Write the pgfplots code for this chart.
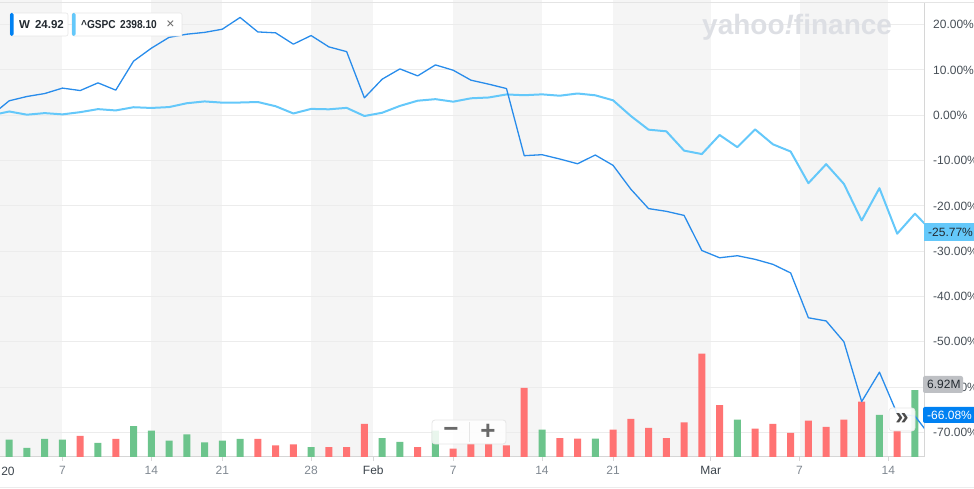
\documentclass[border=0pt]{standalone}
\usepackage{fontspec}
\setmainfont{Liberation Sans}
\usepackage{pgfplots}
\pgfplotsset{compat=1.18}
\usepackage{pgfplotstable}

\definecolor{band}{RGB}{245,245,245}
\definecolor{gridc}{RGB}{236,236,236}
\definecolor{axisc}{RGB}{214,214,214}
\definecolor{wline}{RGB}{40,140,235}
\definecolor{sline}{RGB}{100,200,250}
\definecolor{volg}{RGB}{108,196,140}
\definecolor{volr}{RGB}{255,115,115}
\definecolor{ylab}{RGB}{70,78,86}
\definecolor{daylab}{RGB}{128,136,145}
\definecolor{monlab}{RGB}{60,68,76}
\definecolor{wm}{RGB}{221,223,228}
\definecolor{legtxt}{RGB}{35,42,49}
\definecolor{wbar}{RGB}{0,129,242}
\definecolor{mbox}{RGB}{190,192,196}
\definecolor{btn}{RGB}{105,105,105}
\definecolor{frame}{RGB}{228,228,228}
\definecolor{chip}{RGB}{230,230,230}

% percent change since Dec 31 (index -1), trading-day index
\pgfplotstableread{
i v
-1 0
0 3.2
1 4.15
2 4.8
3 6.0
4 5.46
5 7.16
6 5.55
7 11.94
8 14.8
9 17.2
10 17.9
11 18.3
12 19.0
13 21.6
14 18.4
15 18.2
16 15.7
17 17.6
18 15.1
19 14.05
20 3.85
21 7.97
22 10.24
23 8.7
24 11.12
25 9.95
26 7.75
27 6.87
28 5.9
29 -8.92
30 -8.7
31 -9.65
32 -10.7
33 -8.77
34 -11.05
35 -16.3
36 -20.6
37 -21.2
38 -22.1
39 -29.85
40 -31.45
41 -31.0
42 -31.8
43 -32.9
44 -34.8
45 -44.7
46 -45.4
47 -50.0
48 -63.2
49 -56.7
50 -65.9
51 -66.4
52 -71.5
}\wdata

\pgfplotstableread{
i v
-1 0
0 0.84
1 0.13
2 0.48
3 0.20
4 0.69
5 1.36
6 1.07
7 1.78
8 1.62
9 1.81
10 2.66
11 3.06
12 2.79
13 2.82
14 2.93
15 2.00
16 0.40
17 1.41
18 1.32
19 1.64
20 -0.16
21 0.56
22 2.07
23 3.22
24 3.56
25 3.00
26 3.75
27 3.93
28 4.60
29 4.43
30 4.62
31 4.32
32 4.81
33 4.41
34 3.31
35 -0.15
36 -3.17
37 -3.54
38 -7.80
39 -8.56
40 -4.35
41 -7.04
42 -3.12
43 -6.40
44 -8.00
45 -14.99
46 -10.79
47 -15.15
48 -23.22
49 -16.09
50 -26.14
51 -21.72
52 -25.77
}\sdata

% volume (millions), up days
\pgfplotstableread{
i v
0 1.79
1 0.93
2 1.86
3 1.79
5 1.45
7 3.20
8 2.72
9 1.68
10 2.33
11 1.51
12 1.68
13 1.86
17 1.03
21 1.96
22 1.55
24 2.72
30 2.82
33 1.89
41 3.85
49 4.34
51 6.92
}\volgreen

% volume (millions), down days
\pgfplotstableread{
i v
4 2.17
6 1.86
14 1.86
15 1.20
16 1.30
18 1.03
19 1.03
20 3.41
23 1.03
25 0.86
26 1.37
27 1.37
28 1.20
29 7.13
31 1.96
32 1.89
34 2.82
35 3.93
36 3.00
37 1.96
38 3.57
39 10.67
40 5.37
42 2.92
43 3.41
44 2.48
45 3.75
46 3.10
47 3.85
48 5.71
50 2.75
}\volred

\newcommand{\lblfont}{\fontsize{12bp}{14bp}\selectfont}

\begin{document}
\begin{tikzpicture}[x=1bp,y=1bp]
% axis box = reference pixels x 0..924, y 3..457 ; origin at its lower left
% percent p is stored at p+75.43 ; volume (M) at v*2.137
\begin{axis}[set layers, anchor=south west, at={(0,0)},
  scale only axis, width=924bp, height=454bp,
  xmin=-0.518, xmax=51.51, ymin=0, ymax=100.22,
  axis x line*=bottom, axis y line*=right,
  axis line style={axisc, line width=1bp},
  tick align=outside, major tick length=4bp,
  xtick={3,8,12,17,20.5,25,30,34,39.5,44.5,49.5},
  xticklabels={7,14,21,28,\textcolor{monlab}{Feb},7,14,21,\textcolor{monlab}{Mar},7,14},
  xtick style={axisc, line width=1bp},
  xticklabel style={font=\lblfont, text=daylab, inner sep=0pt, anchor=north, yshift=-5bp},
  ytick={5.43,15.43,...,95.43},
  yticklabels={-70.00\%,-60.00\%,-50.00\%,-40.00\%,-30.00\%,-20.00\%,-10.00\%,0.00\%,10.00\%,20.00\%},
  ytick style={draw=none},
  yticklabel style={font=\lblfont, text=ylab, inner sep=0pt, anchor=west, xshift=5bp},
  ymajorgrids, grid style={gridc, line width=1bp},
  ]
  \begin{pgfonlayer}{axis background}
  \fill[band] (axis cs:-1,0) rectangle (axis cs:3,101);
  \fill[band] (axis cs:8,0) rectangle (axis cs:12,101);
  \fill[band] (axis cs:17,0) rectangle (axis cs:20.5,101);
  \fill[band] (axis cs:25,0) rectangle (axis cs:30,101);
  \fill[band] (axis cs:34,0) rectangle (axis cs:39.5,101);
  \fill[band] (axis cs:44.5,0) rectangle (axis cs:49.5,101);
  \end{pgfonlayer}
  \addplot[ybar, bar width=7bp, bar shift=0pt, fill=volg, draw=none] table[x=i, y expr=\thisrow{v}*2.137] {\volgreen};
  \addplot[ybar, bar width=7bp, bar shift=0pt, fill=volr, draw=none] table[x=i, y expr=\thisrow{v}*2.137] {\volred};
  \addplot[sline, line width=2bp, no marks, line join=round] table[x=i, y expr=\thisrow{v}+75.43] {\sdata};
  \addplot[wline, line width=1.3bp, no marks, line join=round] table[x=i, y expr=\thisrow{v}+75.43] {\wdata};
\end{axis}

\begin{scope}[yshift=-32bp]
% frame lines
\draw[frame, line width=1bp] (0,486.5) -- (974,486.5);
\draw[color={rgb,255:red,236;green,236;blue,236}, line width=1bp] (0,1) -- (974,1);

% "20" label
\node[font=\lblfont, text=monlab, inner sep=0pt] at (8,18) {20};

% watermark
\node[anchor=base west, inner sep=0pt, text=wm, font=\bfseries\fontsize{28bp}{30bp}\selectfont] at (702,454) {yahoo\textit{!}finance};

% legend chips
\fill[white] (10,453) rectangle (68,476);
\draw[chip, line width=0.6bp, rounded corners=2bp] (10,453) rectangle (68,476);
\fill[wbar, rounded corners=1.5bp] (10,453) rectangle (13.5,476);
\node[anchor=base west, inner sep=0pt, text=legtxt, font=\bfseries\fontsize{11.5bp}{13bp}\selectfont] at (19,460) {W\hspace{5bp}24.92};
\fill[white] (72,453) rectangle (182,476);
\draw[chip, line width=0.6bp, rounded corners=2bp] (72,453) rectangle (182,476);
\fill[sline, rounded corners=1.5bp] (72,453) rectangle (75.5,476);
\node[anchor=base west, inner sep=0pt, text=legtxt, font=\bfseries\fontsize{11.5bp}{13bp}\selectfont] at (81,460) {\scalebox{0.88}[1]{\textasciicircum GSPC\hspace{5bp}2398.10}};
\node[inner sep=0pt, text=btn, font=\fontsize{14bp}{14bp}\selectfont] at (170.5,464.5) {×};

% right value labels
\fill[sline] (924,248) rectangle (976,266);
\node[anchor=base west, inner sep=0pt, text=legtxt, font=\lblfont] at (928,252.7) {-25.77\%};
\fill[mbox, rounded corners=2bp] (923,96) rectangle (963,113);
\node[anchor=base west, inner sep=0pt, text=legtxt, font=\lblfont] at (927,100.2) {6.92M};
\fill[wbar, rounded corners=2bp] (923,66) rectangle (978,82);
\node[anchor=base west, inner sep=0pt, text=white, font=\lblfont] at (927,69.7) {-66.08\%};

% zoom buttons
\fill[white, opacity=0.85, rounded corners=3bp] (432,45) rectangle (506,69);
\draw[chip, line width=0.8bp, rounded corners=3bp] (432,45) rectangle (506,69);
\draw[chip, line width=0.8bp] (469,47) -- (469,67);
\node[inner sep=0pt, text=btn, font=\bfseries\fontsize{26bp}{26bp}\selectfont] at (451,57) {−};
\node[inner sep=0pt, text=btn, font=\bfseries\fontsize{26bp}{26bp}\selectfont] at (488,57) {+};

% scroll button
\fill[white, opacity=0.9, rounded corners=3bp] (889,58) rectangle (915,81);
\draw[chip, line width=0.6bp, rounded corners=3bp] (889,58) rectangle (915,81);
\node[inner sep=0pt, text={rgb,255:red,75;green,75;blue,75}, font=\bfseries\fontsize{24bp}{24bp}\selectfont] at (902,70) {»};

\pgfresetboundingbox
\useasboundingbox (0,0) rectangle (974,489);
\end{scope}
\end{tikzpicture}
\end{document}
